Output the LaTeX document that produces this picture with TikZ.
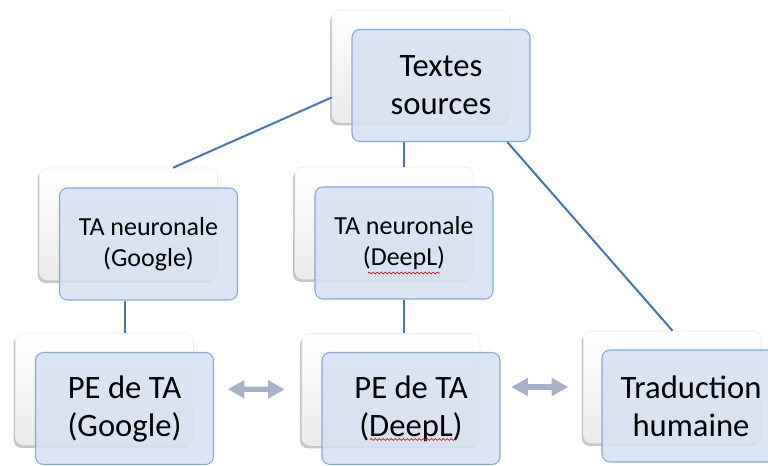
\documentclass[tikz,border=0pt]{standalone}
\usepackage{fontspec}
\setmainfont{Carlito}
\usetikzlibrary{arrows.meta,shadows,calc,decorations.pathmorphing}

\definecolor{boxblue}{RGB}{214,225,241}
\definecolor{boxedge}{RGB}{128,170,224}
\definecolor{linkblue}{RGB}{68,114,196}
\definecolor{arrowgray}{RGB}{166,178,200}

\begin{document}
\begin{tikzpicture}[x=0.75pt,y=-0.75pt]
  \useasboundingbox (0,0) rectangle (768,466);

  % white boxes behind
  \begin{scope}[every node/.style={rounded corners=6pt,minimum width=133.5pt,minimum height=84pt,
      top color=white,bottom color=black!8,draw=black!8,
      drop shadow={shadow xshift=-1.5pt,shadow yshift=-2.2pt,opacity=0.45}}]
    \node (srcb) at (421,66.5)  {};
    \node (gb)   at (128.5,224) {};
    \node (db)   at (384,223)   {};
    \node (pegb) at (104.5,389) {};
    \node (pedb) at (391,389.5) {};
    \node (trb)  at (672.5,387) {};
  \end{scope}

  \draw[linkblue,line width=1.5pt] ($(srcb.west)!0.55!(srcb.south west)$) -- ($(gb.north west)!0.75!(gb.north east)$);

  % blue boxes in front
  \begin{scope}[every node/.style={rounded corners=6pt,minimum width=133.5pt,minimum height=84pt,
      draw=boxedge,line width=0.8pt,fill=boxblue,fill opacity=0.88,text opacity=1,
      align=center,font=\fontsize{24.5}{28.5}\selectfont}]
    \node (src) at (441,85.5) {Textes\\sources};
    \node[font=\fontsize{19.5}{23.5}\selectfont] (g) at (148.5,244) {TA neuronale\\(Google)};
    \node[font=\fontsize{19.5}{23.5}\selectfont] (d) at (404,243) {TA neuronale\\(DeepL)};
    \node (peg) at (124.5,408.5) {PE de TA\\(Google)};
    \node (ped) at (411,408.5) {PE de TA\\(DeepL)};
    \node (tr)  at (691,406) {Traduction\\humaine};
  \end{scope}

  % spell checker waves under DeepL
  \begin{scope}[red!85!black,line width=0.5pt,decoration={snake,segment length=3pt,amplitude=0.7pt}]
    \draw[decorate] ($(d.center)+(-36,30)$) -- ($(d.center)+(36,30)$);
    \draw[decorate] ($(ped.center)+(-41,31)$) -- ($(ped.center)+(44,31)$);
  \end{scope}

  \begin{scope}[linkblue,line width=1.5pt]
    \draw (d.north |- src.south) -- (d.north |- db.north);
    \draw ($(src.south west)!0.87!(src.south east)$) -- (trb.north);
    \draw (peg.north |- g.south) -- (peg.north |- pegb.north);
    \draw (d.south) -- (d.south |- pedb.north);
  \end{scope}

  \begin{scope}[arrowgray,line width=4pt,>={Triangle[length=12.5pt,width=13pt]}]
    \draw[<->,shorten <=25.5pt,shorten >=12.75pt] (pegb.east) -- (pedb.west);
    \draw[<->,shorten <=23.25pt,shorten >=11.25pt] (pedb.east |- trb.west) -- (trb.west);
  \end{scope}

\end{tikzpicture}
\end{document}
